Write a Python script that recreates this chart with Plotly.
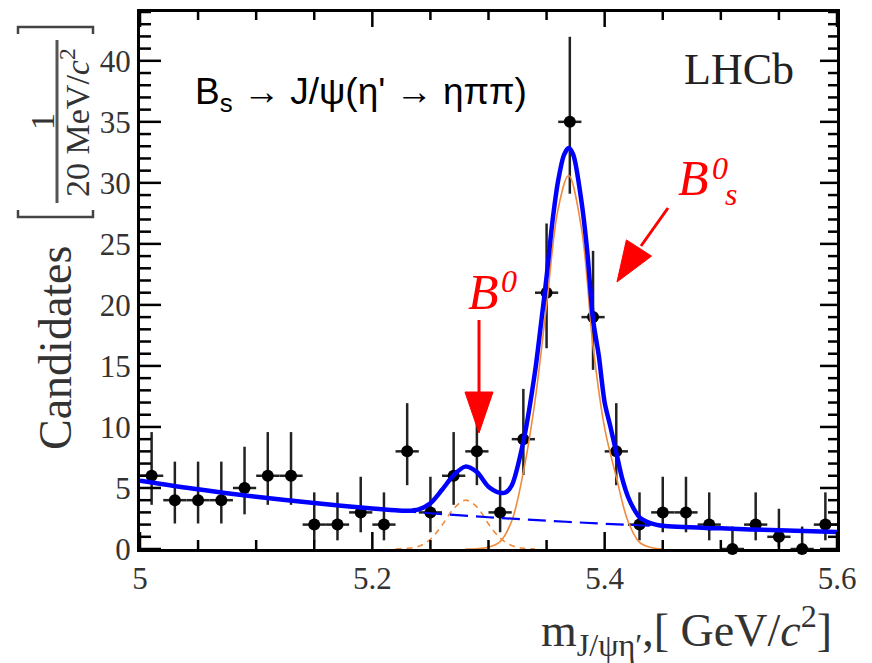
import plotly.graph_objects as go

# ---------------- data ----------------
bin_centers = [5.01, 5.03, 5.05, 5.07, 5.09, 5.11, 5.13, 5.15, 5.17, 5.19,
               5.21, 5.23, 5.25, 5.27, 5.29, 5.31, 5.33, 5.35, 5.37, 5.39,
               5.41, 5.43, 5.45, 5.47, 5.49, 5.51, 5.53, 5.55, 5.57, 5.59]
counts = [6, 4, 4, 4, 5, 6, 6, 2, 2, 3,
          2, 8, 3, 6, 8, 3, 9, 21, 35, 19,
          8, 2, 3, 3, 2, 0, 2, 1, 0, 2]
err_hi = [3.58, 3.16, 3.16, 3.16, 3.38, 3.58, 3.58, 2.64, 2.64, 2.92,
          2.64, 3.95, 2.92, 3.58, 3.95, 2.92, 4.12, 5.67, 6.97, 5.43,
          3.95, 2.64, 2.92, 2.92, 2.64, 1.84, 2.64, 2.30, 1.84, 2.64]
err_lo = [2.38, 1.91, 1.91, 1.91, 2.16, 2.38, 2.38, 1.29, 1.29, 1.63,
          1.29, 2.77, 1.63, 2.38, 2.77, 1.63, 2.94, 4.55, 5.89, 4.32,
          2.77, 1.29, 1.63, 1.63, 1.29, 0.00, 1.29, 0.83, 0.00, 1.29]
bin_half_width = 0.01

# total fit curve
fit_x = [5.000, 5.050, 5.100, 5.150, 5.200, 5.220, 5.230, 5.240, 5.250, 5.260,
         5.270, 5.280, 5.290, 5.300, 5.310, 5.315, 5.320, 5.330, 5.340, 5.345,
         5.350, 5.355, 5.360, 5.365, 5.369, 5.373, 5.380, 5.385, 5.390, 5.395,
         5.400, 5.405, 5.410, 5.415, 5.420, 5.425, 5.430, 5.435, 5.440, 5.450,
         5.500, 5.550, 5.600]
fit_total = [5.60, 4.89, 4.28, 3.76, 3.31, 3.17, 3.13, 3.25, 3.75, 4.85,
             6.05, 6.75, 6.30, 5.10, 4.60, 4.65, 5.20, 8.80, 14.5, 18.3,
             22.3, 26.8, 30.2, 32.3, 32.85, 32.3, 28.5, 24.4, 18.8, 15.8,
             12.0, 10.0, 7.9, 5.8, 4.3, 3.3, 2.6, 2.3, 2.1, 1.90,
             1.69, 1.53, 1.40]

# combinatorial background (dashed)
bkg_x = [5.00, 5.05, 5.10, 5.15, 5.20, 5.25, 5.30, 5.35, 5.40, 5.45, 5.50, 5.55, 5.60]
bkg_y = [5.60, 4.89, 4.28, 3.76, 3.31, 2.93, 2.60, 2.32, 2.07, 1.86, 1.69, 1.53, 1.40]

# B0 component (orange dashed)
b0_x = [5.22, 5.23, 5.24, 5.25, 5.26, 5.27, 5.28, 5.29, 5.30, 5.31, 5.32, 5.33, 5.34]
b0_y = [0.01, 0.05, 0.22, 0.80, 1.95, 3.30, 4.00, 3.45, 2.05, 0.90, 0.28, 0.06, 0.01]

# Bs component (orange solid)
bs_x = [5.28, 5.29, 5.30, 5.31, 5.32, 5.33, 5.34, 5.35, 5.36, 5.369,
        5.38, 5.39, 5.40, 5.41, 5.42, 5.43, 5.44, 5.45]
bs_y = [0.00, 0.02, 0.15, 0.60, 2.30, 6.30, 12.1, 20.0, 27.9, 30.6,
        26.3, 16.6, 9.9, 5.9, 2.3, 0.55, 0.12, 0.00]

x_tick_vals = [5.0, 5.2, 5.4, 5.6]
x_tick_text = ["5", "5.2", "5.4", "5.6"]
y_tick_vals = [0, 5, 10, 15, 20, 25, 30, 35, 40]
x_minor_step = 0.05
y_minor_step = 1

# ---------------- layout geometry ----------------
W, H = 872, 663
ML, MR, MT, MB = 140, 35, 12, 114
PW, PH = W - ML - MR, H - MT - MB
X_RANGE = [5.0, 5.6]
Y_RANGE = [0, 44]


def px(xp):
    return (xp - ML) / PW


def py(yp):
    return 1 - (yp - MT) / PH


SERIF = "Liberation Serif, Times New Roman, serif"
SANS = "Liberation Sans, Arial, sans-serif"
BLUE = "#0000ff"
ORANGE = "#f08a3c"
RED = "#ff0000"

fig = go.Figure()

# data points with error bars
fig.add_trace(go.Scatter(
    x=bin_centers, y=counts, mode="markers",
    marker=dict(color="black", size=12),
    error_y=dict(type="data", symmetric=False, array=err_hi, arrayminus=err_lo,
                 color="#222222", thickness=2.5, width=0),
    error_x=dict(type="constant", value=bin_half_width, color="#222222",
                 thickness=2.5, width=0),
    showlegend=False, cliponaxis=False))

# components
fig.add_trace(go.Scatter(x=b0_x, y=b0_y, mode="lines", line=dict(color=ORANGE, width=1.6, dash="6px,5px", shape="spline"), showlegend=False))
fig.add_trace(go.Scatter(x=bs_x, y=bs_y, mode="lines", line=dict(color=ORANGE, width=1.6, shape="spline"), showlegend=False))
fig.add_trace(go.Scatter(x=bkg_x, y=bkg_y, mode="lines", line=dict(color=BLUE, width=2.2, dash="18px,8px", shape="spline"), showlegend=False))
fig.add_trace(go.Scatter(x=fit_x, y=fit_total, mode="lines", line=dict(color=BLUE, width=4.5, shape="spline", smoothing=0.8), showlegend=False))

fig.update_layout(
    xaxis=dict(range=X_RANGE, tickmode="array", tickvals=x_tick_vals, ticktext=x_tick_text,
               ticks="", showline=True, linecolor="#000000", linewidth=3, mirror=True,
               showgrid=False, zeroline=False,
               tickfont=dict(family=SERIF, size=31, color="#333333")),
    yaxis=dict(range=Y_RANGE, tickmode="array", tickvals=y_tick_vals,
               ticks="", showline=True, linecolor="#000000", linewidth=3, mirror=True,
               showgrid=False, zeroline=False,
               tickfont=dict(family=SERIF, size=31, color="#333333")),
)

ann = []
# y-axis title (ROOT style with fraction)
ann.append(dict(xref="paper", yref="paper", x=px(55), y=py(348), text="Candidates", textangle=-90,
                showarrow=False, xanchor="center", yanchor="middle",
                font=dict(family=SERIF, size=46, color="#333333")))
ann.append(dict(xref="paper", yref="paper", x=px(42), y=py(122), text="1", textangle=-90,
                showarrow=False, xanchor="center", yanchor="middle",
                font=dict(family=SERIF, size=34, color="#333333")))
ann.append(dict(xref="paper", yref="paper", x=px(75), y=py(123), text="20 MeV/<i>c</i><sup>2</sup>",
                textangle=-90, showarrow=False, xanchor="center", yanchor="middle",
                font=dict(family=SERIF, size=34, color="#333333")))
# x-axis title
ann.append(dict(xref="paper", yref="paper", x=px(834), y=py(630),
                text="m<sub>J/ψη′</sub>,[ GeV/<i>c</i><sup>2</sup>]",
                showarrow=False, xanchor="right", yanchor="middle",
                font=dict(family=SERIF, size=46, color="#333333")))
# LHCb
ann.append(dict(xref="paper", yref="paper", x=px(739), y=py(69), text="LHCb",
                showarrow=False, xanchor="center", yanchor="middle",
                font=dict(family=SERIF, size=44, color="#222222")))
# decay label
ann.append(dict(xref="paper", yref="paper", x=px(193), y=py(94),
                text="B<sub>s</sub> → J/ψ(η' → ηππ)",
                showarrow=False, xanchor="left", yanchor="middle",
                font=dict(family=SANS, size=37, color="black")))
# B0 label
ann.append(dict(xref="paper", yref="paper", x=px(483), y=py(292), text="<i>B</i>",
                showarrow=False, xanchor="center", yanchor="middle",
                font=dict(family=SERIF, size=50, color=RED)))
ann.append(dict(xref="paper", yref="paper", x=px(509), y=py(281), text="<i>0</i>",
                showarrow=False, xanchor="center", yanchor="middle",
                font=dict(family=SERIF, size=32, color=RED)))
# Bs label
ann.append(dict(xref="paper", yref="paper", x=px(693), y=py(178), text="<i>B</i>",
                showarrow=False, xanchor="center", yanchor="middle",
                font=dict(family=SERIF, size=50, color=RED)))
ann.append(dict(xref="paper", yref="paper", x=px(720), y=py(168), text="<i>0</i>",
                showarrow=False, xanchor="center", yanchor="middle",
                font=dict(family=SERIF, size=32, color=RED)))
ann.append(dict(xref="paper", yref="paper", x=px(731), y=py(194), text="<i>s</i>",
                showarrow=False, xanchor="center", yanchor="middle",
                font=dict(family=SERIF, size=32, color=RED)))
fig.update_layout(annotations=ann)


def path(points, close=False):
    s = "M " + " L ".join(f"{px(a):.5f},{py(b):.5f}" for a, b in points)
    return s + (" Z" if close else "")


shapes = []
# ROOT-style inside tick marks on all four sides (paper coordinates)
n_x = int(round((X_RANGE[1] - X_RANGE[0]) / x_minor_step))
for i in range(n_x + 1):
    xv = X_RANGE[0] + i * x_minor_step
    xf = (xv - X_RANGE[0]) / (X_RANGE[1] - X_RANGE[0])
    major = any(abs(xv - t) < 1e-9 for t in x_tick_vals)
    lb = (17 if major else 9) / PH
    lt = (15 if major else 8) / PH
    shapes.append(dict(type="line", xref="paper", yref="paper", x0=xf, x1=xf, y0=0, y1=lb,
                       line=dict(color="black", width=2.5), layer="above"))
    shapes.append(dict(type="line", xref="paper", yref="paper", x0=xf, x1=xf, y0=1, y1=1 - lt,
                       line=dict(color="black", width=2.5), layer="above"))
n_y = int(round((Y_RANGE[1] - Y_RANGE[0]) / y_minor_step))
for i in range(n_y + 1):
    yv = Y_RANGE[0] + i * y_minor_step
    yf = (yv - Y_RANGE[0]) / (Y_RANGE[1] - Y_RANGE[0])
    major = yv in y_tick_vals
    ll = (21 if major else 11) / PW
    lr = (17 if major else 9) / PW
    shapes.append(dict(type="line", xref="paper", yref="paper", x0=0, x1=ll, y0=yf, y1=yf,
                       line=dict(color="black", width=2.5), layer="above"))
    shapes.append(dict(type="line", xref="paper", yref="paper", x0=1, x1=1 - lr, y0=yf, y1=yf,
                       line=dict(color="black", width=2.5), layer="above"))

# brackets and fraction bar of the y title
shapes.append(dict(type="path", xref="paper", yref="paper",
                   path=path([(18, 34), (18, 27), (93, 27), (93, 34)]),
                   line=dict(color="#444444", width=2.5)))
shapes.append(dict(type="path", xref="paper", yref="paper",
                   path=path([(18, 210), (18, 217), (93, 217), (93, 210)]),
                   line=dict(color="#444444", width=2.5)))
shapes.append(dict(type="line", xref="paper", yref="paper", x0=px(57), x1=px(57), y0=py(40), y1=py(203),
                   line=dict(color="#555555", width=3)))
# B0 arrow
shapes.append(dict(type="line", xref="paper", yref="paper", x0=px(479), x1=px(479), y0=py(320), y1=py(396),
                   line=dict(color=RED, width=3)))
shapes.append(dict(type="path", xref="paper", yref="paper",
                   path=path([(465, 392), (493, 392), (479, 433)], close=True),
                   fillcolor=RED, line=dict(color=RED, width=1)))
# Bs arrow
shapes.append(dict(type="line", xref="paper", yref="paper", x0=px(668), x1=px(641), y0=py(208), y1=py(246),
                   line=dict(color=RED, width=3)))
shapes.append(dict(type="path", xref="paper", yref="paper",
                   path=path([(651.6, 256.1), (626.4, 239.9), (617, 282)], close=True),
                   fillcolor=RED, line=dict(color=RED, width=1)))
fig.update_layout(shapes=shapes)

fig.update_layout(width=W, height=H, margin=dict(l=ML, r=MR, t=MT, b=MB),
                  plot_bgcolor="white", paper_bgcolor="white", showlegend=False,
                  template="none")

fig.write_html("out.html")
